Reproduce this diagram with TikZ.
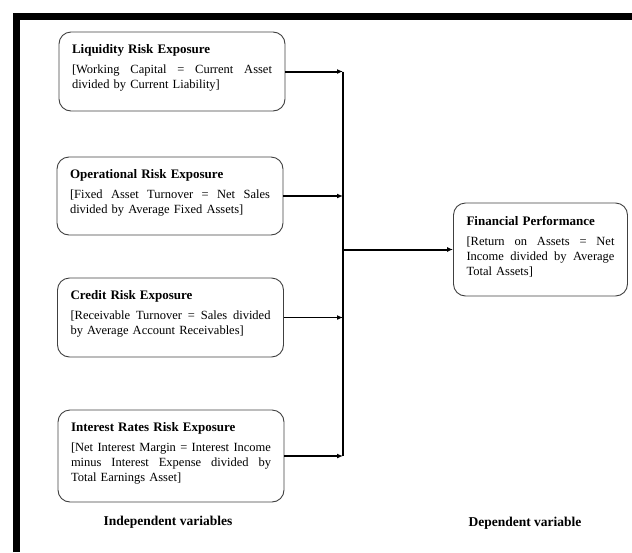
\documentclass[tikz,border=0pt]{standalone}
\usepackage{fontspec}
\setmainfont{Liberation Serif}
\usepackage{tikz}
\usetikzlibrary{positioning,arrows.meta,calc}
\definecolor{boxline}{HTML}{404040}
% one justified line of a box text
\newcommand{\jline}[1]{\makebox[\hsize][s]{\spaceskip=.25em plus 1fil\relax #1}}
% box title
\newcommand{\boxtitle}[1]{{\fontsize{13}{15}\selectfont\bfseries #1}}

\begin{document}
\begin{tikzpicture}[
  x=1pt, y=1pt,
  every node/.style={font=\fontsize{12.5}{15}\selectfont},
  varbox/.style={
    draw=boxline, rounded corners=12pt, line width=0.9pt,
    text width=200pt, align=left, inner xsep=13pt, inner ysep=9pt,
  },
  depbox/.style={varbox, text width=148pt},
  arrow/.style={-{Latex[length=6pt,width=5pt]}, line width=1.3pt},
  lanelabel/.style={font=\fontsize{13.5}{15}\selectfont\bfseries},
]
  \useasboundingbox (0,0) rectangle (632,-552);
  % frame edge
  \draw[line width=7pt] (16.5,-552) -- (16.5,-16.5) -- (632,-16.5);

  \node[varbox, minimum height=79pt] (liq) at (172,-71.5)
    {\boxtitle{Liquidity Risk Exposure}\\[5pt]
     \jline{[Working Capital = Current Asset}\\
     divided by Current Liability]\\[-5pt]\mbox{}};
  \node[varbox, minimum height=78pt] (ops) at (170,-196)
    {\boxtitle{Operational Risk Exposure}\\[5pt]
     \jline{[Fixed Asset Turnover = Net Sales}\\
     divided by Average Fixed Assets]\\[-5pt]\mbox{}};
  \node[varbox, minimum height=79pt] (cred) at (170.5,-317.5)
    {\boxtitle{Credit Risk Exposure}\\[5pt]
     \jline{[Receivable Turnover = Sales divided}\\
     by Average Account Receivables]\\[-5pt]\mbox{}};
  \node[varbox, minimum height=92pt] (irr) at (171,-456)
    {\boxtitle{Interest Rates Risk Exposure}\\[5pt]
     \jline{[Net Interest Margin = Interest Income}\\
     \jline{minus Interest Expense divided by}\\
     Total Earnings Asset]\\[-7pt]\mbox{}};
  \node[depbox, minimum height=93pt] (fp) at (540.5,-249.5)
    {\boxtitle{Financial Performance}\\[5pt]
     \jline{[Return on Assets = Net}\\
     \jline{Income divided by Average}\\
     Total Assets]\\[-7pt]\mbox{}};

  \coordinate (bustop) at (343,-71.5);
  \coordinate (busbot) at (343,-456);
  \coordinate (busmid) at (fp.west -| bustop);

  \draw[line width=1.5pt] (bustop) -- (busbot);
  \draw[arrow, line width=2pt] (liq.east) -- (liq.east -| bustop);
  \draw[arrow] (ops.east) -- (ops.east -| bustop);
  \draw[arrow] (cred.east) -- (cred.east -| bustop);
  \draw[arrow] (irr.east) -- (irr.east -| bustop);
  \draw[arrow, line width=2pt] (busmid) -- (fp.west);

  \node[lanelabel] (indep) at (168,-522) {Independent variables};
  \node[lanelabel] (dep) at (525,-523) {Dependent variable};
\end{tikzpicture}
\end{document}
